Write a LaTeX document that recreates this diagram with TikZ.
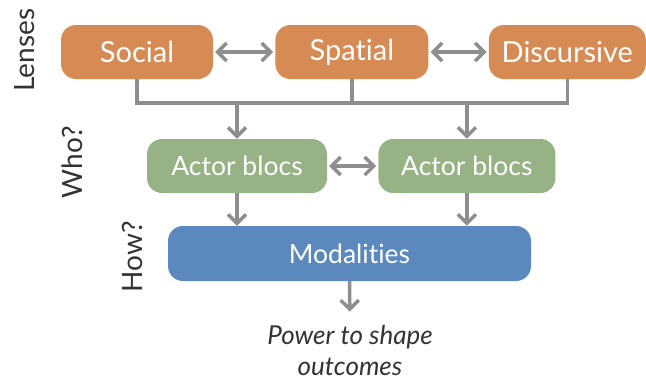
\documentclass[tikz,border=0pt]{standalone}
\usepackage{fontspec}
\setmainfont{Lato}[Ligatures={NoCommon,NoRare,NoContextual}]
\usepackage{tikz}
\usetikzlibrary{positioning,arrows.meta,calc}
\definecolor{lensfill}{HTML}{D68B55}
\definecolor{actorfill}{HTML}{97B386}
\definecolor{modefill}{HTML}{5B88BD}
\definecolor{link}{HTML}{8E8E90}
\definecolor{ink}{HTML}{333333}
\tikzset{
  lens/.style={rectangle,rounded corners=15pt,fill=lensfill,text=white,
    minimum height=54pt,minimum width=152pt,font=\fontsize{29}{33}\selectfont},
  actor/.style={rectangle,rounded corners=15pt,fill=actorfill,text=white,
    minimum height=54pt,minimum width=180pt,font=\fontsize{26.5}{30}\selectfont},
  mode/.style={rectangle,rounded corners=15pt,fill=modefill,text=white,
    minimum height=55pt,minimum width=363pt,font=\fontsize{26.5}{30}\selectfont},
  side/.style={rotate=90,text=ink,font=\fontsize{28}{32}\selectfont},
  ar/.style={-{Straight Barb[length=9pt,width=18pt]},line width=3.5pt,draw=link},
  dar/.style={{Straight Barb[length=9pt,width=18pt]}-{Straight Barb[length=9pt,width=18pt]},line width=3.5pt,draw=link},
  bus/.style={line width=3.5pt,draw=link},
}

\begin{document}
\begin{tikzpicture}[x=1pt,y=-1pt]
  \useasboundingbox (0,0) rectangle (646,384);
  % lenses row
  \node[lens] (social) at (137,52) {Social};
  \node[lens,right=62pt of social,minimum width=153pt] (spatial) {Spatial};
  \node[lens,right=60pt of spatial,minimum width=157pt] (discursive) {Discursive};
  \draw[dar,shorten <=2pt,shorten >=2pt] (social) -- (spatial);
  \draw[dar,shorten <=2pt,shorten >=2pt] (spatial) -- (discursive);
  % actor blocs row
  \node[actor] (actorA) at (237,166) {Actor blocs};
  \node[actor,right=51pt of actorA,minimum width=177pt] (actorB) {Actor blocs};
  \draw[dar,shorten <=2pt,shorten >=2pt] (actorA) -- (actorB);
  % bus from the lenses
  \coordinate (busL) at ($(social.south)+(0,24)$);
  \draw[bus] (social.south) -- (busL) -| (discursive.south);
  \draw[bus] (spatial.south) -- (spatial.south |- busL);
  \draw[ar] (actorA.north |- busL) -- (actorA.north);
  \draw[ar] (actorB.north |- busL) -- (actorB.north);
  % modalities
  \node[mode] (modal) at (349.5,253.5) {Modalities};
  \draw[ar] (actorA.south) -- (actorA.south |- modal.north);
  \draw[ar] (actorB.south) -- (actorB.south |- modal.north);
  \node[text=ink,align=center,font=\fontsize{26}{31}\itshape,inner sep=0pt] (power) at (350,351) {Power to shape\\outcomes};
  \draw[ar,shorten >=14pt] (modal.south) -- (power.north);
  % side labels
  \node[side] (lbllens) at (25,50) {Lenses};
  \node[side] (lblwho) at (72,162) {Who?};
  \node[side] (lblhow) at (132,257) {How?};
\end{tikzpicture}
\end{document}
